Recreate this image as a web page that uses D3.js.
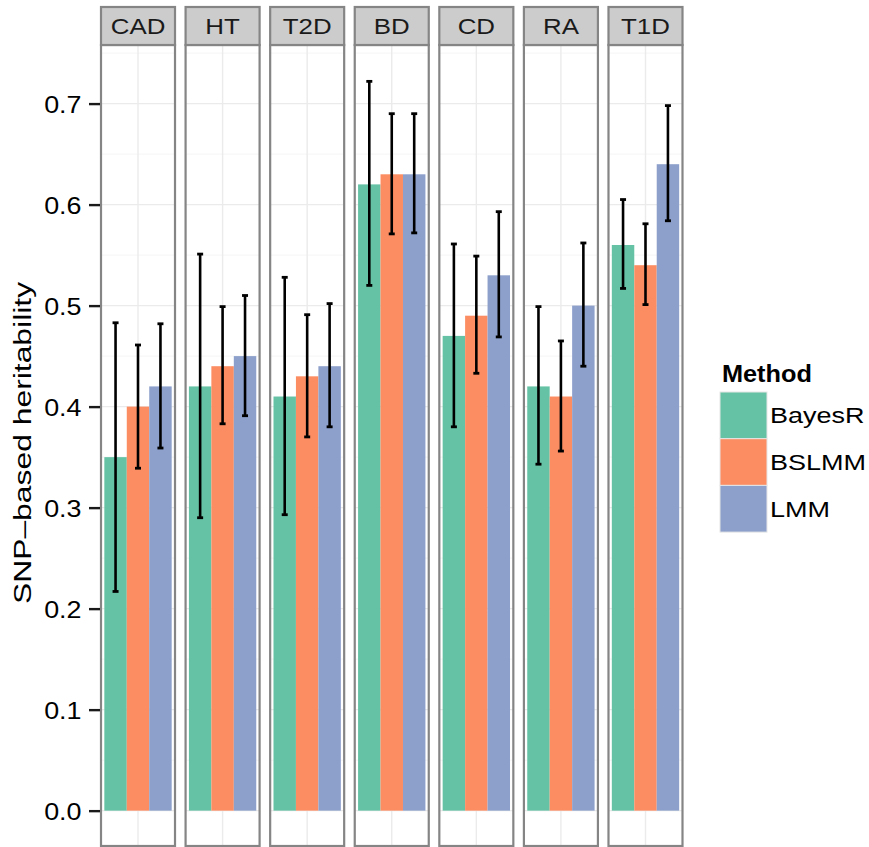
<!DOCTYPE html>
<html>
<head>
<meta charset="utf-8">
<script src="https://cdn.jsdelivr.net/npm/d3@7"></script>
<style>
  html, body { margin: 0; padding: 0; background: #fff; }
  svg { display: block; font-family: "Liberation Sans", Arial, Helvetica, sans-serif; }
</style>
</head>
<body>
<svg id="chart" width="869" height="847"></svg>
<script>
// Traits (facets) and estimation methods
const diseases = ["CAD", "HT", "T2D", "BD", "CD", "RA", "T1D"];
const methods = ["BayesR", "BSLMM", "LMM"];

// SNP-based heritability estimates per method
const bayesR = [0.35, 0.42, 0.41, 0.62, 0.47, 0.42, 0.56];
const bslmm  = [0.40, 0.44, 0.43, 0.63, 0.49, 0.41, 0.54];
const lmm    = [0.42, 0.45, 0.44, 0.63, 0.53, 0.50, 0.64];

// Interval bounds per method
const bayesRLow  = [0.217, 0.290, 0.293, 0.520, 0.380, 0.343, 0.517];
const bayesRHigh = [0.483, 0.551, 0.528, 0.722, 0.561, 0.499, 0.605];
const bslmmLow   = [0.339, 0.383, 0.370, 0.571, 0.433, 0.356, 0.501];
const bslmmHigh  = [0.461, 0.499, 0.491, 0.690, 0.549, 0.465, 0.581];
const lmmLow     = [0.359, 0.391, 0.380, 0.572, 0.469, 0.440, 0.584];
const lmmHigh    = [0.482, 0.510, 0.502, 0.690, 0.593, 0.562, 0.698];

// Axis ticks
const yTicks = [0.0, 0.1, 0.2, 0.3, 0.4, 0.5, 0.6, 0.7];
const yMinorTicks = [0.05, 0.15, 0.25, 0.35, 0.45, 0.55, 0.65, 0.75];

const colors = ["#66c2a5", "#fc8d62", "#8da0cb"];

const seriesValues = [bayesR, bslmm, lmm];
const seriesLow = [bayesRLow, bslmmLow, lmmLow];
const seriesHigh = [bayesRHigh, bslmmHigh, lmmHigh];

const rows = [];
diseases.forEach((d, i) => {
  methods.forEach((m, j) => {
    rows.push({ disease: d, method: m, value: seriesValues[j][i],
                low: seriesLow[j][i], high: seriesHigh[j][i] });
  });
});

const svg = d3.select("#chart");

const panelTop = 45, panelBottom = 846;
const stripTop = 7;
const y = d3.scaleLinear().domain([-0.035, 0.758]).range([panelBottom, panelTop]);
const panelX = d3.scaleBand().domain(diseases).range([101, 682.5]).paddingInner(0.125).paddingOuter(0);
const pw = panelX.bandwidth();
const color = d3.scaleOrdinal().domain(methods).range(colors);

// Facet panels
const panels = svg.selectAll("g.panel").data(diseases).join("g")
  .attr("class", "panel")
  .attr("transform", d => `translate(${panelX(d)},0)`);

// gridlines
panels.each(function () {
  const g = d3.select(this);
  g.selectAll("line.minor").data(yMinorTicks).join("line")
    .attr("x1", 0).attr("x2", pw)
    .attr("y1", d => y(d)).attr("y2", d => y(d))
    .attr("stroke", "#f5f5f5").attr("stroke-width", 1);
  g.selectAll("line.major").data(yTicks).join("line")
    .attr("x1", 0).attr("x2", pw)
    .attr("y1", d => y(d)).attr("y2", d => y(d))
    .attr("stroke", "#ebebeb").attr("stroke-width", 1.4);
  g.append("line")
    .attr("x1", pw / 2).attr("x2", pw / 2)
    .attr("y1", panelTop).attr("y2", panelBottom)
    .attr("stroke", "#ebebeb").attr("stroke-width", 1.4);
});

// bars and intervals
panels.each(function (disease) {
  const g = d3.select(this);
  const inset = pw * 0.045;
  const bx = d3.scaleBand().domain(methods).range([inset, pw - inset]).padding(0);
  const data = rows.filter(r => r.disease === disease);

  g.selectAll("rect.bar").data(data).join("rect")
    .attr("class", "bar")
    .attr("x", d => bx(d.method))
    .attr("width", bx.bandwidth())
    .attr("y", d => y(d.value))
    .attr("height", d => y(0) - y(d.value))
    .attr("fill", d => color(d.method));

  const cap = 3;
  const cx = d => bx(d.method) + bx.bandwidth() / 2;
  const eb = g.selectAll("g.eb").data(data).join("g").attr("class", "eb");
  eb.append("line")
    .attr("x1", cx).attr("x2", cx)
    .attr("y1", d => y(d.low)).attr("y2", d => y(d.high))
    .attr("stroke", "#000").attr("stroke-width", 2.6);
  eb.append("line")
    .attr("x1", d => cx(d) - cap).attr("x2", d => cx(d) + cap)
    .attr("y1", d => y(d.low)).attr("y2", d => y(d.low))
    .attr("stroke", "#000").attr("stroke-width", 2.8);
  eb.append("line")
    .attr("x1", d => cx(d) - cap).attr("x2", d => cx(d) + cap)
    .attr("y1", d => y(d.high)).attr("y2", d => y(d.high))
    .attr("stroke", "#000").attr("stroke-width", 2.8);
});

// panel borders
panels.append("rect")
  .attr("x", 0).attr("y", panelTop)
  .attr("width", pw).attr("height", panelBottom - panelTop)
  .attr("fill", "none").attr("stroke", "#858585").attr("stroke-width", 2.2);

// strips
panels.append("rect")
  .attr("x", 0).attr("y", stripTop)
  .attr("width", pw).attr("height", panelTop - stripTop)
  .attr("fill", "#cccccc").attr("stroke", "#858585").attr("stroke-width", 2.2);
panels.append("text")
  .attr("transform", `translate(${pw / 2},${(stripTop + panelTop) / 2 + 8}) scale(1.15,1)`)
  .attr("text-anchor", "middle")
  .attr("font-size", 22.5)
  .attr("fill", "#1a1a1a")
  .text(d => d);

// y axis
const yAxis = d3.axisLeft(y).tickValues(yTicks).tickSize(11).tickPadding(0)
  .tickFormat(d3.format(".1f"));
const axisG = svg.append("g").attr("transform", `translate(100,0)`).call(yAxis);
axisG.select(".domain").remove();
axisG.selectAll(".tick line").attr("stroke", "#1a1a1a").attr("stroke-width", 2.4);
axisG.selectAll(".tick text")
  .attr("x", null).attr("dy", null)
  .attr("transform", `translate(-18.5,8.5) scale(1.12,1)`)
  .attr("text-anchor", "end")
  .attr("font-size", 24)
  .attr("font-family", "'Liberation Sans', Arial, sans-serif")
  .attr("fill", "#000");

// y axis title
svg.append("text")
  .attr("transform", `translate(31,443) rotate(-90) scale(1.3,1)`)
  .attr("text-anchor", "middle")
  .attr("font-size", 24.5)
  .attr("fill", "#000")
  .text("SNP\u2013based heritability");

// legend
const legend = svg.append("g").attr("transform", "translate(720,0)");
legend.append("text")
  .attr("transform", "translate(2,382) scale(1.1,1)")
  .attr("font-size", 23)
  .attr("font-weight", "bold")
  .attr("fill", "#000")
  .text("Method");
const keyH = 46.7, keyTop = 392;
const keys = legend.selectAll("g.key").data(methods).join("g")
  .attr("class", "key")
  .attr("transform", (d, i) => `translate(0,${keyTop + i * keyH})`);
keys.append("rect")
  .attr("width", 47).attr("height", keyH)
  .attr("fill", d => color(d))
  .attr("stroke", "#e6e6e6").attr("stroke-width", 1);
keys.append("text")
  .attr("transform", `translate(50,${keyH / 2 + 8}) scale(1.2,1)`)
  .attr("font-size", 22.5)
  .attr("fill", "#000")
  .text(d => d);
</script>
</body>
</html>
